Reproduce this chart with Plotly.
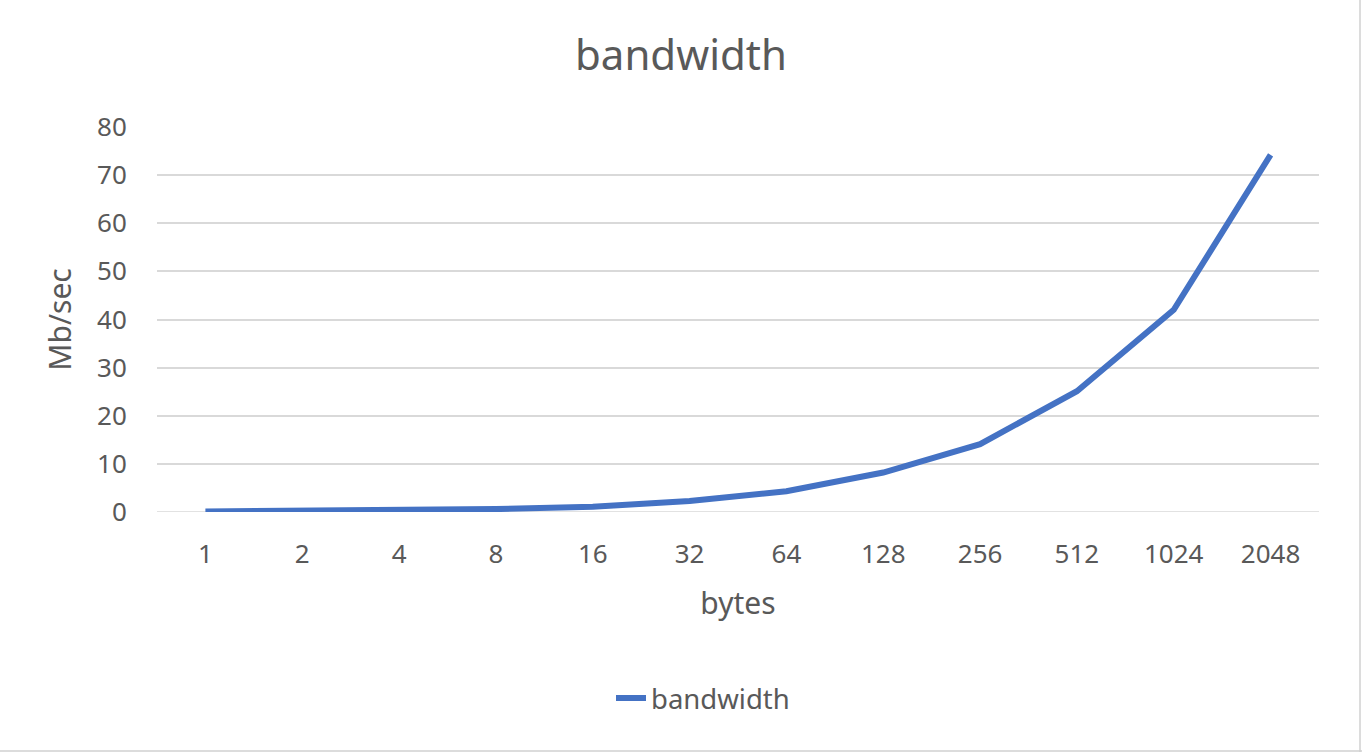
import plotly.graph_objects as go

categories = ["1", "2", "4", "8", "16", "32", "64", "128", "256", "512", "1024", "2048"]
bandwidth = [0.1, 0.2, 0.35, 0.6, 1.1, 2.3, 4.3, 8.2, 14.1, 25.1, 42.0, 74.2]

FONT = "Noto Sans"
GREY = "#595959"

W, H = 1362, 752
L, R, T, B = 157, 43, 127, 240
PW, PH = W - L - R, H - T - B

fig = go.Figure()
fig.add_trace(go.Scatter(
    x=categories, y=bandwidth, mode="lines", name="bandwidth",
    line=dict(color="#4472C4", width=6),
))

fig.update_layout(
    width=W, height=H,
    margin=dict(l=L, r=R, t=T, b=B, autoexpand=False),
    paper_bgcolor="white", plot_bgcolor="white",
    font=dict(family=FONT, color=GREY, size=26),
    title=dict(text="bandwidth", x=0.5, xref="container", xanchor="center",
               y=1 - 55 / H, yref="container", yanchor="middle",
               font=dict(size=42, color=GREY, family=FONT)),
    showlegend=True,
    legend=dict(orientation="h", x=0.5 + 22 / W, xanchor="center", xref="container",
                y=1 - 698 / H, yref="container", yanchor="middle",
                font=dict(size=27.5, color=GREY, family=FONT)),
    xaxis=dict(type="category", range=[-0.5, 11.5], showgrid=False,
               showline=False, zeroline=False,
               ticks="outside", ticklen=19, tickcolor="rgba(0,0,0,0)",
               tickfont=dict(size=26, color=GREY),
               title=dict(text="bytes", font=dict(size=30, color=GREY), standoff=22)),
    yaxis=dict(range=[0, 80], dtick=10, showgrid=True, gridcolor="#D9D9D9",
               gridwidth=1.5, zeroline=False, showline=False,
               ticks="outside", ticklen=24, tickcolor="rgba(0,0,0,0)",
               tickfont=dict(size=26, color=GREY),
               title=dict(text="Mb/sec", font=dict(size=30, color=GREY), standoff=16)),
)

# zero grid line
fig.add_shape(type="line", xref="paper", yref="y", x0=0, x1=1, y0=0, y1=0,
              line=dict(color="#D9D9D9", width=1.5), layer="below")
# spreadsheet borders at the right and bottom edges
xr = (1360 - L) / PW
fig.add_shape(type="line", xref="paper", yref="paper",
              x0=xr, x1=xr, y0=-B / PH, y1=(PH + T) / PH,
              line=dict(color="#D0D0D0", width=1.5))
yb = -(751 - (H - B)) / PH
fig.add_shape(type="line", xref="paper", yref="paper",
              x0=-L / PW, x1=(W - L) / PW, y0=yb, y1=yb,
              line=dict(color="#D0D0D0", width=1.5))

fig.write_html("out.html", config={"displayModeBar": False},
               post_script="document.body.style.margin='0px';")
